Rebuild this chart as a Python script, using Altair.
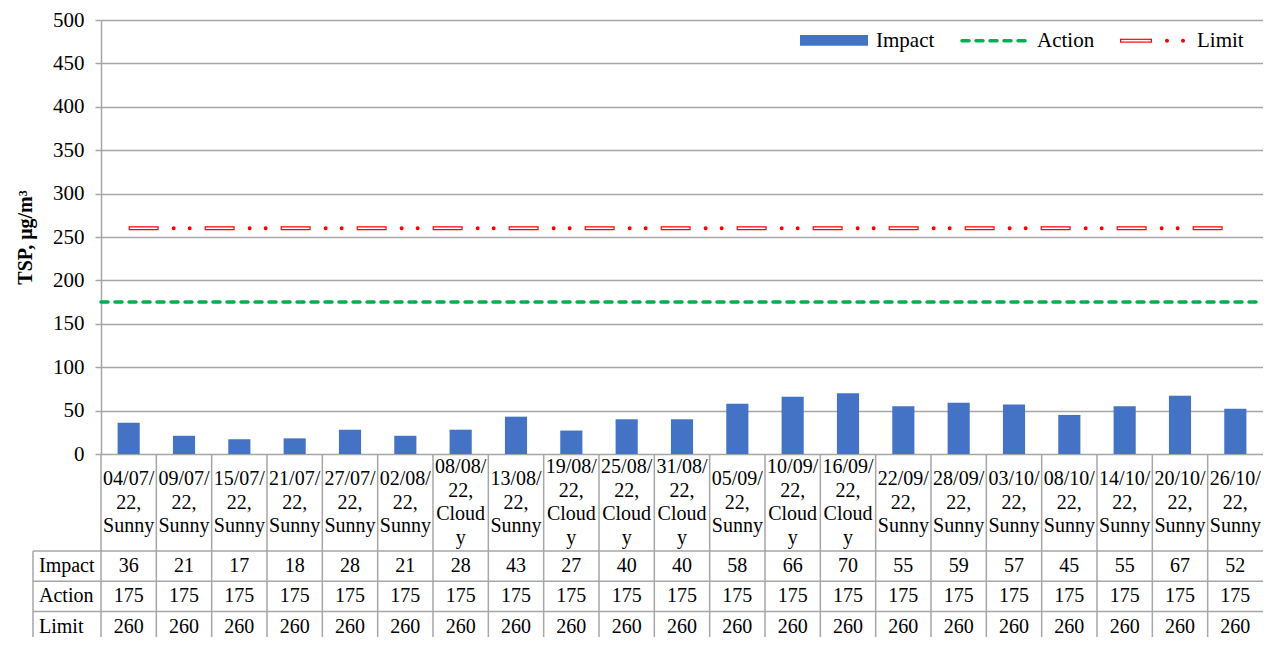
import altair as alt
import pandas as pd

# ---------------- data ----------------
dates = ["04/07/22", "09/07/22", "15/07/22", "21/07/22", "27/07/22", "02/08/22",
         "08/08/22", "13/08/22", "19/08/22", "25/08/22", "31/08/22", "05/09/22",
         "10/09/22", "16/09/22", "22/09/22", "28/09/22", "03/10/22", "08/10/22",
         "14/10/22", "20/10/22", "26/10/22"]
weather = ["Sunny", "Sunny", "Sunny", "Sunny", "Sunny", "Sunny",
           "Cloudy", "Sunny", "Cloudy", "Cloudy", "Cloudy", "Sunny",
           "Cloudy", "Cloudy", "Sunny", "Sunny", "Sunny", "Sunny",
           "Sunny", "Sunny", "Sunny"]
impact = [36, 21, 17, 18, 28, 21, 28, 43, 27, 40, 40, 58, 66, 70, 55, 59, 57, 45, 55, 67, 52]
action = [175, 175, 175, 175, 175, 175, 175, 175, 175, 175, 175, 175, 175, 175, 175, 175,
          175, 175, 175, 175, 175]
limit = [260, 260, 260, 260, 260, 260, 260, 260, 260, 260, 260, 260, 260, 260, 260, 260,
         260, 260, 260, 260, 260]
rows = ["Impact", "Action", "Limit"]
y_ticks = [0, 50, 100, 150, 200, 250, 300, 350, 400, 450, 500]

# ---------------- style ----------------
FONT = "Liberation Serif, Times New Roman, serif"
GRAY = "#a6a6a6"
BLUE = "#4472C4"
GREEN = "#00B050"
RED = "#FF0000"
W = 1162
H = 434
PAD_L = 93
PAD_T = 12
PAD_B = 183
LABEL_ROW = 97
ROW_H = 30.2
TABLE_TOP = H + LABEL_ROW
BOTTOM = H + PAD_B
LEFT_COL = -68
LINE_H = 23.5

cats = [f"{d}, {w}" for d, w in zip(dates, weather)]


def wrap(d, w):
    parts = [d[:6], d[6:] + ","]
    parts += ["Cloud", "y"] if w == "Cloudy" else [w]
    return parts


wrapped = [wrap(d, w) for d, w in zip(dates, weather)]
labels = ["\n".join(p) for p in wrapped]
nlines = [len(p) for p in wrapped]

main = pd.DataFrame({"cat": cats, "label": labels, "nlines": nlines, "Impact": impact,
                     "Action": action, "Limit": limit})
table = main.melt(id_vars=["cat"], value_vars=rows, var_name="row", value_name="value")
rows_df = pd.DataFrame({"row": rows})
act_df = pd.DataFrame({"start": [cats[0]], "end": [cats[-1]], "Action": [action[0]]})
one = pd.DataFrame({"k": [0]})

xscale = alt.Scale(domain=cats, paddingInner=0, paddingOuter=0)
yscale = alt.Scale(domain=[0, 500], nice=False, zero=True)
rowscale = alt.Scale(domain=rows, range=[TABLE_TOP, TABLE_TOP + 3 * ROW_H],
                     paddingInner=0, paddingOuter=0)


def X(field="cat:N", **kw):
    return alt.X(field, scale=xscale, axis=None, **kw)


yaxis = alt.Axis(values=y_ticks, grid=True, gridColor=GRAY, gridWidth=1.5,
                 domainColor=GRAY, domainWidth=1.5, tickColor=GRAY, tickWidth=1.5,
                 tickSize=6, labelFont=FONT, labelFontSize=21, labelColor="black",
                 labelPadding=11, labelFlush=False, labelOverlap=False,
                 title="TSP, μg/m³", titleFont=FONT, titleFontSize=20,
                 titleFontWeight="bold", titleColor="black", titleX=-76, titleY=H / 2,
                 titleAngle=270, titleAlign="center", titleBaseline="middle")

bars = alt.Chart(main).mark_bar(width=alt.RelativeBandSize(0.4), color=BLUE).encode(
    x=X(), y=alt.Y("Impact:Q", scale=yscale, axis=yaxis))

action_line = alt.Chart(act_df).mark_rule(
    color=GREEN, strokeWidth=3.5, strokeDash=[7, 7], strokeCap="round").encode(
    x=X("start:N", bandPosition=0), x2=alt.X2("end", bandPosition=1),
    y=alt.Y("Action:Q", scale=yscale, axis=None))

lim_base = alt.Chart(main).encode(x=X(), y=alt.Y("Limit:Q", scale=yscale, axis=None))
lim_outer = lim_base.mark_line(color=RED, strokeWidth=4, strokeDash=[30, 46], strokeCap="butt")
lim_inner = lim_base.mark_line(color="white", strokeWidth=1.6, strokeDash=[0, 1.2, 27.6, 47.2],
                               strokeCap="butt")
lim_dots = lim_base.mark_line(color=RED, strokeWidth=4, strokeDash=[0, 16, 0, 60],
                              strokeDashOffset=31, strokeCap="round")

# ---------------- data table ----------------
# multi-line category labels, each block centred in the label row
label_center = H + LABEL_ROW / 2
cat_label_layers = []
for n in sorted(set(nlines)):
    cat_label_layers.append(
        alt.Chart(main).transform_filter(alt.datum.nlines == n).mark_text(
            font=FONT, fontSize=20, lineBreak="\n", lineHeight=LINE_H, baseline="middle",
            align="center", color="black").encode(
            x=X(), y=alt.value(label_center - (n - 1) * LINE_H / 2), text="label:N"))

vsep = alt.Chart(main).mark_rule(color=GRAY, strokeWidth=1.5).encode(
    x=X(bandPosition=0), y=alt.value(H), y2=alt.value(BOTTOM))

left_border = alt.Chart(one).mark_rule(color=GRAY, strokeWidth=1.5).encode(
    x=alt.value(LEFT_COL), y=alt.value(TABLE_TOP), y2=alt.value(BOTTOM))

hsep = alt.Chart(rows_df).mark_rule(color=GRAY, strokeWidth=1.5).encode(
    y=alt.Y("row:N", scale=rowscale, axis=None, bandPosition=0),
    x=alt.value(LEFT_COL), x2=alt.value(W))

row_labels = alt.Chart(rows_df).mark_text(
    align="left", baseline="middle", font=FONT, fontSize=20, color="black").encode(
    y=alt.Y("row:N", scale=rowscale, axis=None), x=alt.value(LEFT_COL + 6), text="row:N")

values = alt.Chart(table).mark_text(
    align="center", baseline="middle", font=FONT, fontSize=20, color="black").encode(
    x=X(), y=alt.Y("row:N", scale=rowscale, axis=None), text="value:Q")

# ---------------- legend ----------------
LEG_Y = 20.7
leg_rect = alt.Chart(one).mark_rect(color=BLUE).encode(
    x=alt.value(699), x2=alt.value(767), y=alt.value(15), y2=alt.value(25.7))
leg_act = alt.Chart(one).mark_rule(color=GREEN, strokeWidth=3.5, strokeDash=[7, 7],
                                   strokeCap="round").encode(
    x=alt.value(861), x2=alt.value(929), y=alt.value(LEG_Y))
leg_lim_o = alt.Chart(one).mark_rule(color=RED, strokeWidth=4, strokeCap="butt").encode(
    x=alt.value(1019), x2=alt.value(1051), y=alt.value(LEG_Y))
leg_lim_i = alt.Chart(one).mark_rule(color="white", strokeWidth=1.6, strokeCap="butt").encode(
    x=alt.value(1020.2), x2=alt.value(1049.8), y=alt.value(LEG_Y))
leg_lim_d = alt.Chart(one).mark_rule(color=RED, strokeWidth=4, strokeDash=[0, 16, 0, 100],
                                     strokeCap="round").encode(
    x=alt.value(1066), x2=alt.value(1083), y=alt.value(LEG_Y))


def leg_text(txt, xpos):
    return alt.Chart(one).mark_text(align="left", baseline="middle", font=FONT,
                                    fontSize=21, color="black").encode(
        x=alt.value(xpos), y=alt.value(20.5), text=alt.value(txt))


chart = alt.layer(
    bars, action_line, lim_outer, lim_inner, lim_dots,
    vsep, left_border, hsep, *cat_label_layers, row_labels, values,
    leg_rect, leg_act, leg_lim_o, leg_lim_i, leg_lim_d,
    leg_text("Impact", 775), leg_text("Action", 936), leg_text("Limit", 1096),
).resolve_scale(y="independent").properties(
    width=W, height=H,
    autosize=alt.AutoSizeParams(type="none"),
    padding={"left": PAD_L, "top": PAD_T, "right": 0, "bottom": PAD_B},
).configure_view(stroke=None).configure(background="white")

chart.save("out.html", embed_options={"renderer": "svg", "actions": False})
